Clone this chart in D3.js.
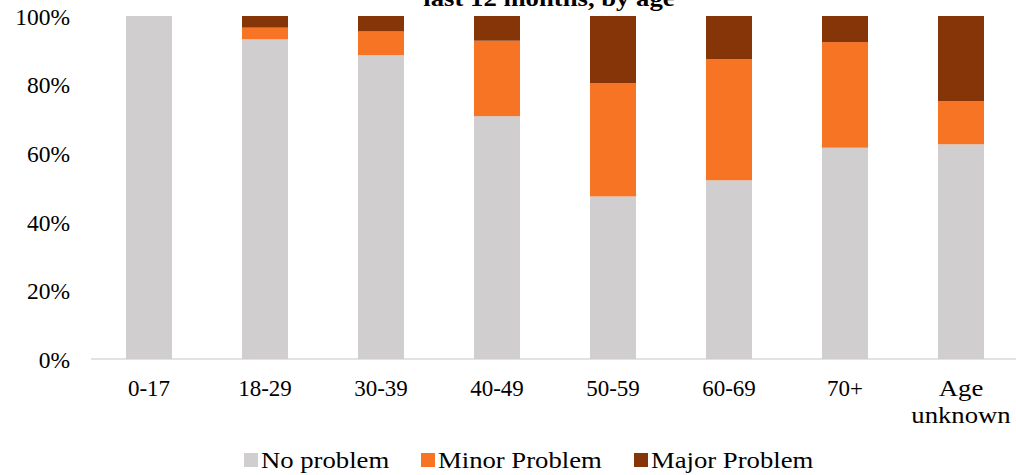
<!DOCTYPE html>
<html><head><meta charset="utf-8">
<script src="https://cdn.jsdelivr.net/npm/d3@7"></script>
<style>
html,body{margin:0;padding:0;background:#fff;}
svg{display:block;}
text{font-family:"Liberation Serif","DejaVu Serif",serif;fill:#000;}
</style></head>
<body>
<svg id="chart" width="1016" height="475"></svg>
<script>
const categories = ["0-17","18-29","30-39","40-49","50-59","60-69","70+","Age unknown"];
const noProblem    = [100, 93.2, 88.6, 70.8, 47.4, 52.1, 61.6, 62.6];
const minorProblem = [0,   3.4,  6.9,  22.0, 33.0, 35.3, 30.8, 12.6];
const majorProblem = [0,   3.4,  4.5,  7.2,  19.6, 12.6, 7.6,  24.8];
const seriesNames  = ["No problem","Minor Problem","Major Problem"];
const yTicks = [0, 20, 40, 60, 80, 100];
const titleText = "last 12 months, by age";

const colors = ["#D0CECE", "#F77425", "#853508"];
const svg = d3.select("#chart");
const plotTop = 16, plotBottom = 359;
const stretch = 1.16;

function widen(sel) {
  sel.each(function() {
    const w = this.getComputedTextLength();
    d3.select(this).attr("textLength", w * stretch).attr("lengthAdjust", "spacingAndGlyphs");
  });
}

const x = d3.scaleBand().domain(categories).range([91, 1019]).paddingInner(0.6035).paddingOuter(0.3017);
const y = d3.scaleLinear().domain([0, 100]).range([plotBottom, plotTop]);

const rows = categories.map((c, i) => ({cat: c, s0: noProblem[i], s1: minorProblem[i], s2: majorProblem[i]}));
const stack = d3.stack().keys(["s0","s1","s2"])(rows);

// axis line
svg.append("line").attr("x1", 91).attr("x2", 1016).attr("y1", y(0)).attr("y2", y(0))
  .attr("stroke", "#D9D9D9").attr("stroke-width", 1.5);

// bars
stack.forEach((layer, li) => {
  svg.append("g").selectAll("rect").data(layer).join("rect")
    .attr("x", d => x(d.data.cat))
    .attr("width", x.bandwidth())
    .attr("y", d => y(d[1]))
    .attr("height", d => Math.max(0, y(d[0]) - y(d[1])))
    .attr("fill", colors[li]);
});

// y axis labels
const yAxis = d3.axisLeft(y).tickValues(yTicks).tickFormat(d => d + "%").tickSize(0).tickPadding(0);
const gy = svg.append("g").attr("transform", "translate(70,0)").call(yAxis);
gy.select(".domain").remove();
gy.selectAll("text").attr("font-family", "Liberation Serif, serif").attr("font-size", 23.5).attr("fill", "#000").attr("dy", "0.35em");

// x axis labels
const xAxis = d3.axisBottom(x).tickSize(0).tickPadding(0);
const gx = svg.append("g").attr("transform", `translate(0,${y(0)})`).call(xAxis);
gx.select(".domain").remove();
gx.selectAll("text").attr("font-family", "Liberation Serif, serif").attr("font-size", 23).attr("fill", "#000")
  .attr("dy", null).attr("y", 37)
  .each(function(d) {
    const t = d3.select(this);
    const words = d.split(" ");
    if (words.length > 1) {
      t.text(null);
      words.forEach((w, i) => {
        const ts = t.append("tspan").attr("x", 0).attr("dy", i === 0 ? 0 : 27).text(w);
        const len = ts.node().getComputedTextLength();
        ts.attr("textLength", len * stretch).attr("lengthAdjust", "spacingAndGlyphs");
      });
    }
  });

// title
svg.append("text").attr("x", 549).attr("y", 6).attr("text-anchor", "middle")
  .attr("font-size", 23).attr("font-weight", "bold").text(titleText).call(widen);

// legend
const legendX = [244, 421, 634];
const lg = svg.append("g");
seriesNames.forEach((n, i) => {
  lg.append("rect").attr("x", legendX[i]).attr("y", 453).attr("width", 14).attr("height", 14).attr("fill", colors[i]);
  lg.append("text").attr("x", legendX[i] + 17).attr("y", 468).attr("font-size", 23).text(n).call(widen);
});
</script>
</body></html>
